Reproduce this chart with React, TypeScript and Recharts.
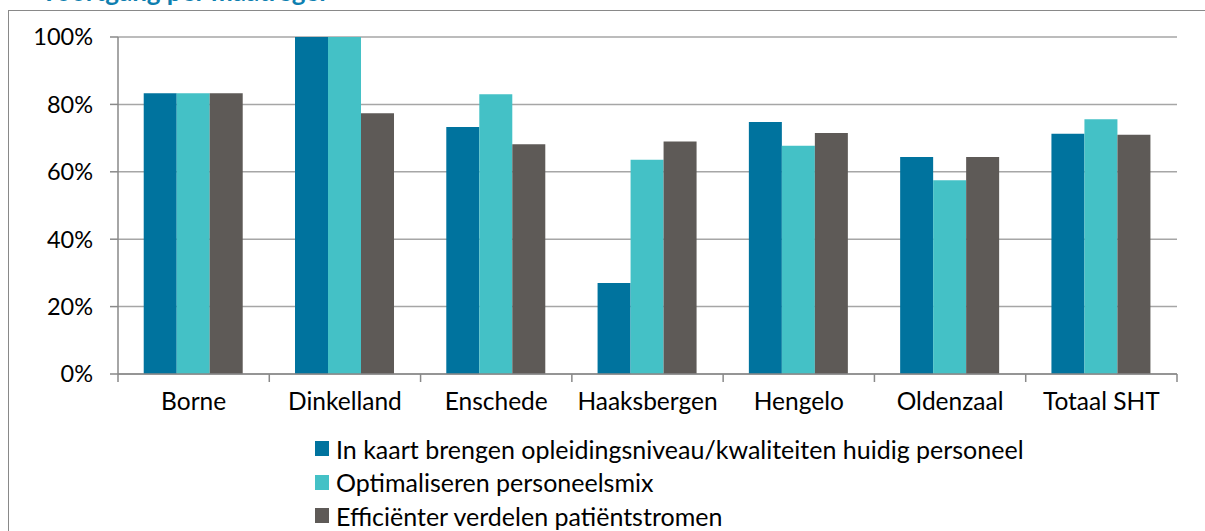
import React from 'react';
import { BarChart, Bar, XAxis, YAxis, CartesianGrid } from 'recharts';

const categories = ['Borne', 'Dinkelland', 'Enschede', 'Haaksbergen', 'Hengelo', 'Oldenzaal', 'Totaal SHT'];
const kaartValues = [83.3, 100, 73.3, 27, 74.8, 64.4, 71.3];
const mixValues = [83.3, 100, 83, 63.6, 67.7, 57.5, 75.6];
const stromenValues = [83.3, 77.4, 68.2, 69, 71.5, 64.4, 71];
const seriesNames = [
  'In kaart brengen opleidingsniveau/kwaliteiten huidig personeel',
  'Optimaliseren personeelsmix',
  'Efficiënter verdelen patiëntstromen',
];
const seriesColors = ['#00739E', '#44C1C6', '#5E5A57'];
const yTicks = [0, 20, 40, 60, 80, 100];
const titleText = 'Voortgang per maatregel';

const data = categories.map((c, i) => ({
  name: c,
  kaart: kaartValues[i],
  mix: mixValues[i],
  stromen: stromenValues[i],
}));
const keys = ['kaart', 'mix', 'stromen'];

const FONT = 'Lato, "Open Sans", sans-serif';
const AXIS = '#898989';

const CatTick = (props: any) => {
  const { x, y, payload, index } = props;
  const off = payload && payload.offset ? payload.offset : 0;
  const last = index === categories.length - 1;
  return (
    <g>
      <line x1={x - off} x2={x - off} y1={y} y2={y + 8} stroke={AXIS} strokeWidth={1.5} />
      {last ? <line x1={x + off} x2={x + off} y1={y} y2={y + 8} stroke={AXIS} strokeWidth={1.5} /> : null}
      <text x={x} y={y + 36} textAnchor="middle" fontFamily={FONT} fontSize={24.5} fill="#000">
        {payload.value}
      </text>
    </g>
  );
};

export default function App() {
  return (
    <div style={{ position: 'absolute', left: 0, top: 0, width: 1205, height: 531, background: '#fff', overflow: 'hidden' }}>
      <div style={{ position: 'absolute', left: 0, top: 0, width: 1205, height: 10, overflow: 'hidden' }}>
        <div style={{ position: 'absolute', left: 40, top: -22, fontFamily: FONT, fontWeight: 700, fontSize: 26, color: '#0E7FB0', whiteSpace: 'nowrap', lineHeight: '26px' }}>
          {titleText}
        </div>
      </div>
      <div style={{ position: 'absolute', left: 8, top: 10, width: 1205, height: 531, borderLeft: `1.5px solid ${AXIS}`, borderTop: `1.5px solid ${AXIS}`, boxSizing: 'border-box' }} />
      <div style={{ position: 'absolute', left: 0, top: 0 }}>
        <BarChart
          width={1205}
          height={531}
          data={data}
          margin={{ top: 37, right: 28, bottom: 127, left: 58 }}
          barCategoryGap="17%"
          barGap={0}
        >
          <CartesianGrid vertical={false} stroke="#A6A6A6" strokeWidth={1.5} />
          <XAxis
            dataKey="name"
            height={30}
            tickLine={false}
            tickSize={0}
            tickMargin={0}
            axisLine={{ stroke: AXIS, strokeWidth: 1.5 }}
            tick={<CatTick />}
            interval={0}
          />
          <YAxis
            width={60}
            domain={[0, 100]}
            ticks={yTicks}
            tickFormatter={(v: number) => `${v}%`}
            tickSize={8}
            tickMargin={17}
            tickLine={{ stroke: AXIS, strokeWidth: 1.5 }}
            axisLine={{ stroke: AXIS, strokeWidth: 1.5 }}
            tick={{ fontFamily: FONT, fontSize: 23.5, fill: '#000' }}
          />
          {keys.map((k, i) => (
            <Bar key={k} dataKey={k} name={seriesNames[i]} fill={seriesColors[i]} isAnimationActive={false} />
          ))}
        </BarChart>
      </div>
      <div style={{ position: 'absolute', left: 315, top: 432, fontFamily: FONT, fontSize: 25, color: '#000' }}>
        {seriesNames.map((n, i) => (
          <div key={n} style={{ display: 'flex', alignItems: 'center', height: 33.5, whiteSpace: 'nowrap' }}>
            <span style={{ display: 'inline-block', width: 14, height: 15, background: seriesColors[i], marginRight: 7 }} />
            <span>{n}</span>
          </div>
        ))}
      </div>
    </div>
  );
}
